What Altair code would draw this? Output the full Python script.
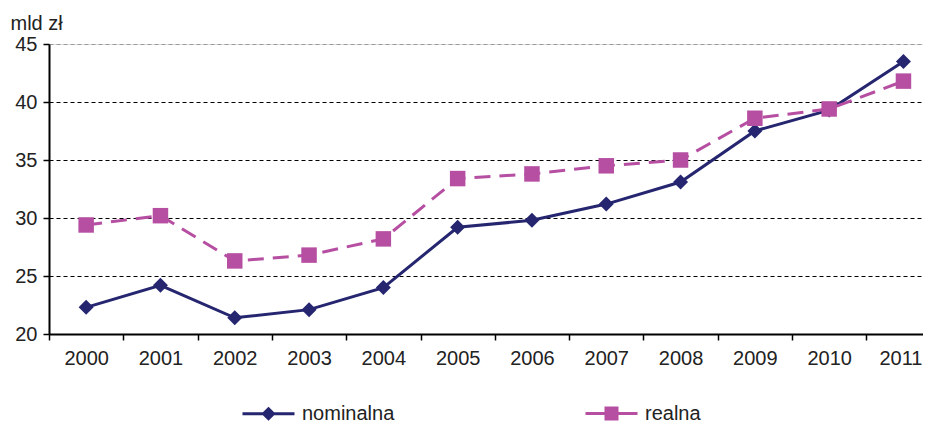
import altair as alt
import pandas as pd

years = list(range(2000, 2012))
nominalna = [22.3, 24.2, 21.4, 22.1, 24.0, 29.2, 29.8, 31.2, 33.1, 37.5, 39.3, 43.5]
realna = [29.4, 30.2, 26.3, 26.8, 28.2, 33.4, 33.8, 34.5, 35.0, 38.6, 39.4, 41.8]
series_names = ["nominalna", "realna"]
y_ticks = [20, 25, 30, 35, 40, 45]

NAVY = "#25266f"
MAG = "#b64fa2"
FONT = "Liberation Sans"
TXT = "#222222"

df = pd.DataFrame(
    {"year": years * 2,
     "value": nominalna + realna,
     "series": [series_names[0]] * len(years) + [series_names[1]] * len(years)}
)

x_vals = [y - 0.5 for y in years] + years
x_axis = alt.Axis(
    values=x_vals,
    title=None,
    grid=False,
    domainColor="black",
    domainWidth=2,
    tickColor="black",
    tickWidth=1.5,
    tickSize=6,
    tickOpacity={"condition": {"test": "datum.value % 1 === 0", "value": 0}, "value": 1},
    labelExpr="datum.value % 1 === 0 ? toString(datum.value) : ''",
    labelOffset={"condition": {"test": "datum.value === 2011", "value": -3}, "value": 0},
    labelOverlap=False,
    labelFlush=False,
    labelFont=FONT,
    labelFontSize=20,
    labelColor=TXT,
    labelPadding=8,
)
y_axis = alt.Axis(
    values=y_ticks,
    title="mld zł",
    titleAngle=0,
    titleAlign="left",
    titleBaseline="alphabetic",
    titleX=-39,
    titleY=-15,
    titleFont=FONT,
    titleFontSize=20,
    titleFontWeight="normal",
    titleColor=TXT,
    domainColor="black",
    domainWidth=2,
    tickColor="black",
    tickWidth=1.5,
    tickSize=6,
    labelFont=FONT,
    labelFontSize=20,
    labelColor=TXT,
    labelPadding=6,
    grid=True,
    gridColor={"condition": {"test": "datum.value === 45", "value": "#9a9a9a"}, "value": "black"},
    gridDash=[4, 3],
    gridWidth=1,
)

x_enc = alt.X("year:Q", scale=alt.Scale(domain=[1999.5, 2011.263], nice=False, zero=False), axis=x_axis)
y_enc = alt.Y("value:Q", scale=alt.Scale(domain=[20, 45], nice=False, zero=False), axis=y_axis)

base = alt.Chart(df).encode(x=x_enc, y=y_enc)
nom = base.transform_filter(alt.datum.series == "nominalna")
rea = base.transform_filter(alt.datum.series == "realna")

line_nom = nom.mark_line(color=NAVY, strokeWidth=3)
line_rea = rea.mark_line(color=MAG, strokeWidth=3, strokeDash=[16, 9])
pts_nom = nom.mark_point(shape="diamond", filled=True, size=225, color=NAVY, opacity=1)
pts_rea = rea.mark_point(shape="square", filled=True, size=240, color=MAG, opacity=1)

path_nom = "M-2.6,0L2.6,0M0,-0.5L0.5,0L0,0.5L-0.5,0Z"
path_rea = "M-2.6,0L2.6,0M-0.55,-0.55L0.55,-0.55L0.55,0.55L-0.55,0.55Z"

leg = alt.Legend(
    title=None,
    orient="none",
    direction="horizontal",
    legendX=208,
    legendY=358,
    padding=0,
    columnPadding=184,
    labelOffset=22,
    labelFont=FONT,
    labelFontSize=20,
    labelColor=TXT,
    symbolStrokeWidth=3,
    symbolOpacity=1,
    symbolSize=400,
)
legend_layer = base.mark_point(filled=True, opacity=0, size=400).encode(
    color=alt.Color("series:N", scale=alt.Scale(domain=series_names, range=[NAVY, MAG]), legend=leg),
    stroke=alt.Stroke("series:N", scale=alt.Scale(domain=series_names, range=[NAVY, MAG]), legend=leg),
    shape=alt.Shape("series:N", scale=alt.Scale(domain=series_names, range=[path_nom, path_rea]), legend=leg),
)

chart = alt.layer(line_nom, line_rea, pts_nom, pts_rea, legend_layer).properties(
    width=874,
    height=290,
    autosize=alt.AutoSizeParams(type="none"),
    padding={"left": 41, "top": 36, "right": 0, "bottom": 90},
).configure_view(stroke=None).configure(background="white")

chart.save("out.html", embed_options={"renderer": "svg", "actions": False})
